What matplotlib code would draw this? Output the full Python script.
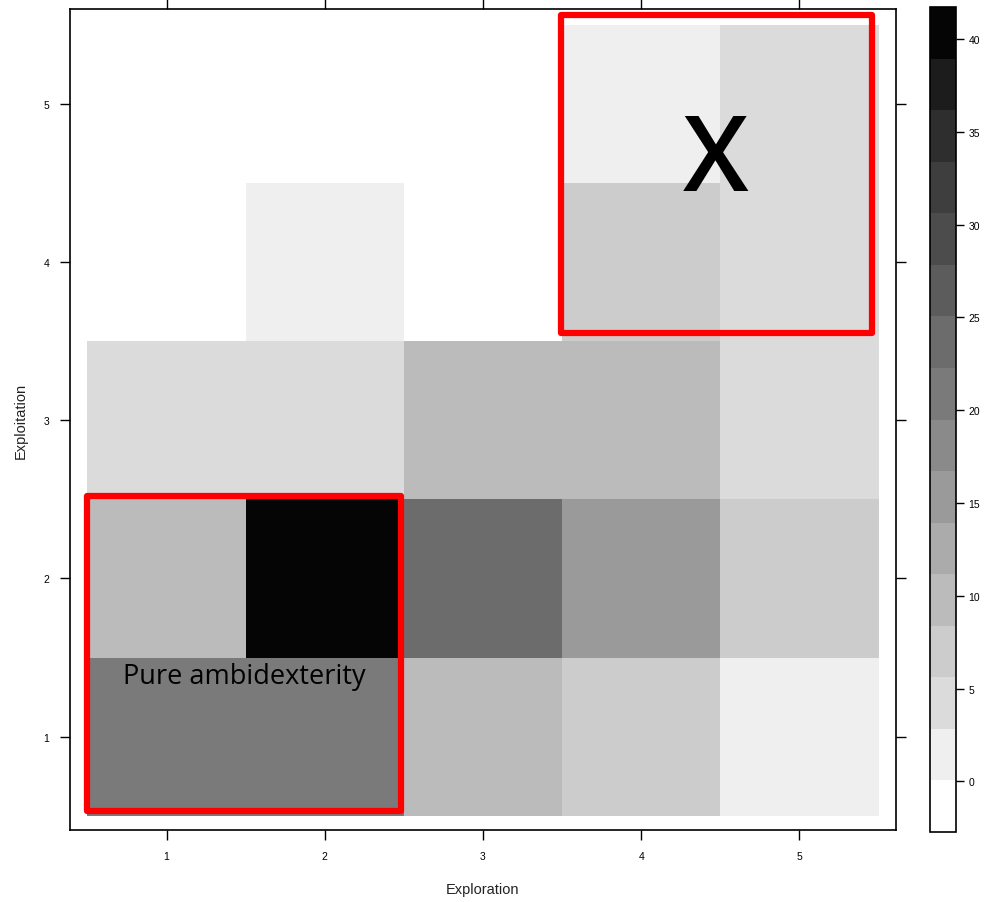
import numpy as np
import matplotlib
matplotlib.use("Agg")
import matplotlib.pyplot as plt
from matplotlib.colors import ListedColormap, BoundaryNorm
from matplotlib.patches import Rectangle

# Data
exploration = [1, 2, 3, 4, 5]
exploitation = [1, 2, 3, 4, 5]
# rows: exploitation 1..5 ; columns: exploration 1..5
row_expl1 = [20, 20, 10, 7, 1]
row_expl2 = [10, 39, 23, 16, 7]
row_expl3 = [4, 4, 10, 10, 4]
row_expl4 = [0, 1, 0, 7, 4]
row_expl5 = [0, 0, 0, 1, 4]
cbar_ticks = [0, 5, 10, 15, 20, 25, 30, 35, 40]
gray_levels = [255, 239, 219, 204, 187, 171, 154, 138, 122, 108, 92, 76, 62, 46, 28, 5]

Z = np.array([row_expl1, row_expl2, row_expl3, row_expl4, row_expl5], dtype=float)

# lattice-style breaks: extend range by 7% and cut into 16 intervals
zmin, zmax = Z.min(), Z.max()
pad = 0.07 * (zmax - zmin)
bounds = np.linspace(zmin - pad, zmax + pad, len(gray_levels) + 1)
cmap = ListedColormap([(g / 255, g / 255, g / 255) for g in gray_levels])
norm = BoundaryNorm(bounds, cmap.N)

plt.rcParams['font.family'] = ['Liberation Sans', 'DejaVu Sans']

fig = plt.figure(figsize=(9.87, 9.03), dpi=100)
ax = fig.add_axes([70 / 987, 1 - 831 / 903, 826 / 987, 821 / 903])

xe = np.arange(0.5, 6.0, 1.0)
ye = np.arange(0.5, 6.0, 1.0)
ax.pcolormesh(xe, ye, Z, cmap=cmap, norm=norm, shading='flat')

ax.set_xlim(0.39, 5.61)
ax.set_ylim(0.41, 5.6)
ax.set_xticks(exploration)
ax.set_yticks(exploitation)
ax.tick_params(axis='both', which='both', direction='out', length=7, width=1,
               labelsize=7.5, top=True, right=True, labeltop=False, labelright=False,
               pad=8)
for s in ax.spines.values():
    s.set_linewidth(1.2)
ax.set_xlabel('Exploration', fontsize=10.5, labelpad=15, color='#222222')
ax.set_ylabel('Exploitation', fontsize=10.5, labelpad=11, color='#222222')

# Red annotation boxes
ax.add_patch(Rectangle((0.5, 0.53), 1.98, 1.99, fill=False, edgecolor='#ff0000',
                       linewidth=4.5, joinstyle='round', zorder=5))
ax.add_patch(Rectangle((3.49, 3.55), 1.97, 2.01, fill=False, edgecolor='#ff0000',
                       linewidth=4.5, joinstyle='round', zorder=5))
ax.text(1.49, 1.385, 'Pure ambidexterity', fontsize=19.5, family=['Open Sans', 'DejaVu Sans'],
        ha='center', va='center', color='black', zorder=6)
ax.text(4.47, 4.63, 'X', fontsize=76, family=['Open Sans', 'DejaVu Sans'],
        fontweight='semibold', ha='center', va='center', color='black', zorder=6)

# Colorbar
cax = fig.add_axes([930 / 987, 1 - 833 / 903, 26 / 987, 825 / 903])
cb = fig.colorbar(matplotlib.cm.ScalarMappable(norm=norm, cmap=cmap), cax=cax,
                  boundaries=bounds, ticks=cbar_ticks, drawedges=False)
cb.minorticks_off()
cb.outline.set_linewidth(1.2)
cax.tick_params(direction='out', length=6, width=1, labelsize=7.5, pad=3)

fig.savefig('out.png', dpi=100)
